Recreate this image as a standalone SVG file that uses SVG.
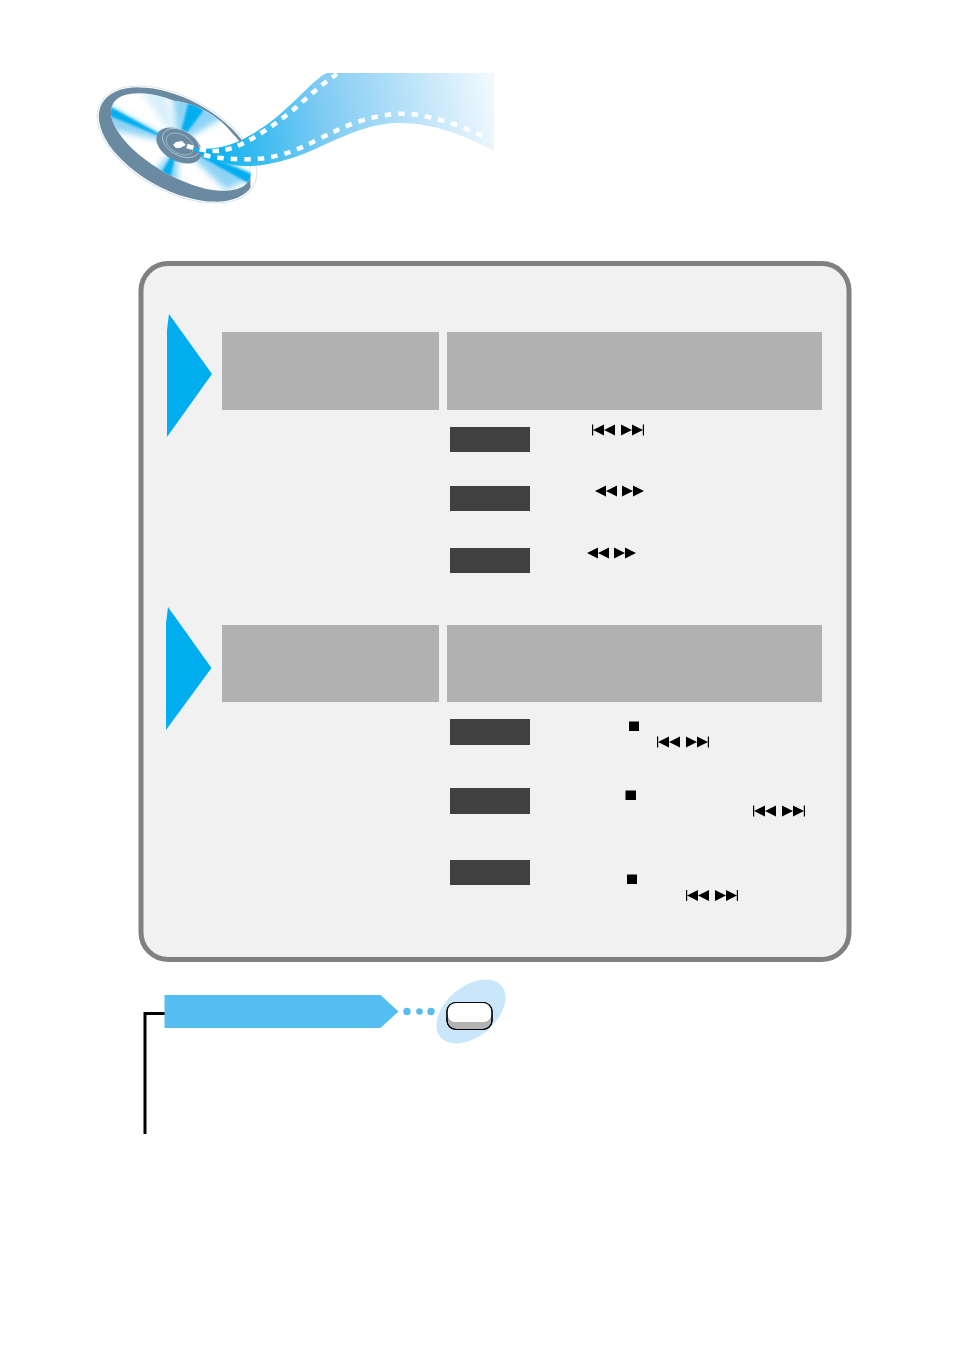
<svg xmlns="http://www.w3.org/2000/svg" xmlns:xlink="http://www.w3.org/1999/xlink" width="954" height="1351" viewBox="0 0 954 1351">
<style>
.hdr{fill:#b1b1b1}
.lbl{fill:#404040}
.tri{fill:#00aeef}
.k{fill:#000}
.dash{fill:none;stroke:#fff;stroke-width:4.500}
</style>
<defs>
<linearGradient id="film" gradientUnits="userSpaceOnUse" x1="215" y1="150" x2="495" y2="95">
<stop offset="0" stop-color="#0fb2ef"/><stop offset="0.4" stop-color="#80cbf3"/><stop offset="1" stop-color="#f2f9fe"/>
</linearGradient>
<filter id="soft" x="-30%" y="-30%" width="160%" height="160%"><feGaussianBlur stdDeviation="3"/></filter>
<filter id="soft2" x="-30%" y="-30%" width="160%" height="160%"><feGaussianBlur stdDeviation="1.200"/></filter>
<clipPath id="face">
<ellipse cx="181" cy="142" rx="78" ry="34.500" transform="rotate(29.500 181 142)"/>
<path d="M174 100.700 C183 102 190 104 197.500 107 C211 113 224 122 232 133 C238 139 243 145 247 152 L250 172 L200 140Z"/>
</clipPath>
<clipPath id="ringcut"><rect x="90" y="70" width="160.500" height="140"/></clipPath>
<g id="prev"><rect x="0" y="-5.500" width="1.200" height="11"/><path d="M1 0 L12-5.500 V5.500Z M12 0 L23-5.500 V5.500Z"/></g>
<g id="next"><path d="M0-5.500 L11 0 L0 5.500Z M11-5.500 L22 0 L11 5.500Z"/><rect x="21.800" y="-5.500" width="1.200" height="11"/></g>
<g id="rew"><path d="M0 0 L11-5.500 V5.500Z M11 0 L22-5.500 V5.500Z"/></g>
<g id="ff"><path d="M0-5.500 L11 0 L0 5.500Z M11-5.500 L22 0 L11 5.500Z"/></g>
</defs>

<g id="disc">
<ellipse cx="177" cy="144.500" rx="87" ry="47" transform="rotate(28.500 177 144.500)" fill="#fff" stroke="#dde3e8" stroke-width="1"/>
<g clip-path="url(#ringcut)">
<ellipse cx="177" cy="144.500" rx="85.500" ry="45.500" transform="rotate(28.500 177 144.500)" fill="#6a8aa2"/>
</g>
<path d="M174 100.700 C183 102 190 104 197.500 107 C211 113 224 122 232 133 C238 139 243 145 247 152 L250 172 L200 140Z" fill="#fff"/>
<ellipse cx="181" cy="142" rx="78" ry="34.500" transform="rotate(29.500 181 142)" fill="#fff"/>
<g clip-path="url(#face)">
<g fill="#8fd3f5" filter="url(#soft)">
<path d="M178 144 L100 100 L102 128Z"/>
<path d="M178 144 L172 90 L226 116Z"/>
<path d="M178 144 L148 178 L178 192Z"/>
<path d="M178 144 L226 160 L255 176 L226 190Z"/>
<path d="M178 144 L140 90 L165 88Z" opacity="0.35"/>
</g>
<g fill="#00aeef" filter="url(#soft2)">
<path d="M178 144 L105 104 L105 114Z"/>
<path d="M178 144 L189 100 L204 110Z"/>
<path d="M178 144 L156 182 L168 188Z"/>
<path d="M178 144 L252 174 L250 184Z"/>
</g>
</g>
<ellipse cx="179" cy="145.500" rx="24.500" ry="15.500" transform="rotate(29 179 145.500)" fill="#6a8aa2"/>
<ellipse cx="180" cy="144" rx="15" ry="9.500" transform="rotate(29 180 144)" fill="none" stroke="#a9bcc9" stroke-width="0.800"/>
<ellipse cx="181" cy="143" rx="20" ry="12.500" transform="rotate(29 181 143)" fill="none" stroke="#c7d3dc" stroke-width="0.700"/>
<path d="M173 145 L176 142 L182 141 L186 145 L180 148 L176 148Z" fill="#fff"/>
</g>

<g id="film-strip">
<path d="M187 146 C205 152 228 148 247 137 C272 124 290 105 313 83 C318 79 322 75 327 73 H494 V151 C465 135 430 122 397 123 C370 124 350 133 313 150 C290 160 268 166 247 166 C225 166 205 158 187 146Z" fill="url(#film)"/>
<path class="dash" stroke-dasharray="6.500 6.500" d="M187 146 C205 152 222 153 237 146 C258 137 274 125 293 110 C305 100 318 87 337 74"/>
<path class="dash" stroke-dasharray="6.500 7" d="M204 155 C216 158 228 159 240 159 C256 160 268 158 280 155 C295 151 305 146 317 140 C331 133 343 127 357 122 C370 118 382 115 393 114 C410 113 420 115 433 118 C450 122 470 130 487 138"/>
</g>

<g id="panel">
<rect x="141" y="263.500" width="708" height="696" rx="27" fill="#f1f1f1" stroke="#808080" stroke-width="5"/>
</g>

<g id="section-1">
<path class="tri" d="M169 314 L212 374 L167 437 L167 330Z"/>
<rect class="hdr" x="222" y="332" width="217" height="78"/>
<rect class="hdr" x="447" y="332" width="375" height="78"/>
</g>
<g id="row-1-1"><rect class="lbl" x="450" y="427" width="80" height="25"/><use xlink:href="#prev" x="592" y="430"/><use xlink:href="#next" x="621" y="430"/></g>
<g id="row-1-2"><rect class="lbl" x="450" y="486" width="80" height="25"/><use xlink:href="#rew" x="595" y="491"/><use xlink:href="#ff" x="622" y="491"/></g>
<g id="row-1-3"><rect class="lbl" x="450" y="548" width="80" height="25"/><use xlink:href="#rew" x="587" y="553"/><use xlink:href="#ff" x="614" y="553"/></g>

<g id="section-2">
<path class="tri" d="M168 607 L211.500 668 L166 730 L166 623Z"/>
<rect class="hdr" x="222" y="625" width="217" height="77"/>
<rect class="hdr" x="447" y="625" width="375" height="77"/>
</g>
<g id="row-2-1"><rect class="lbl" x="450" y="719" width="80" height="26"/><rect class="k" x="629" y="721.500" width="10" height="9.500"/><use xlink:href="#prev" x="657" y="742"/><use xlink:href="#next" x="686" y="742"/></g>
<g id="row-2-2"><rect class="lbl" x="450" y="788" width="80" height="26"/><rect class="k" x="625.500" y="790.500" width="10.500" height="9.500"/><use xlink:href="#prev" x="753" y="811"/><use xlink:href="#next" x="782" y="811"/></g>
<g id="row-2-3"><rect class="lbl" x="450" y="860" width="80" height="25"/><rect class="k" x="627" y="874.500" width="10" height="9.500"/><use xlink:href="#prev" x="686" y="895.500"/><use xlink:href="#next" x="715" y="895.500"/></g>

<g id="connectors">
<path d="M145 1134 V1013.500 H166" fill="none" stroke="#000" stroke-width="3"/>
<g fill="#55bdf0"><circle cx="407" cy="1011.500" r="3.700"/><circle cx="419.500" cy="1011.500" r="3.300"/><circle cx="431" cy="1011.500" r="3.700"/></g>
</g>

<g id="banner">
<path d="M164.500 995 H380.500 L398.500 1011.500 L380.500 1028 H164.500Z" fill="#55bdf0"/>
</g>

<g id="button">
<ellipse cx="471" cy="1011.500" rx="40" ry="25" transform="rotate(-40 471 1011.500)" fill="#cae6fb"/>
<rect x="447" y="1002.500" width="45" height="27" rx="9" fill="#b3b3b3" stroke="#000" stroke-width="1.200"/>
<path d="M447.500 1012 C447.500 1006 450 1003 456 1003 H483 C489 1003 491.500 1006 491.500 1012 C491.500 1019 488 1022 483 1022 H456 C451 1022 447.500 1019 447.500 1012Z" fill="#fff"/>
<rect x="447" y="1002.500" width="45" height="27" rx="9" fill="none" stroke="#000" stroke-width="1.200"/>
</g>
</svg>
